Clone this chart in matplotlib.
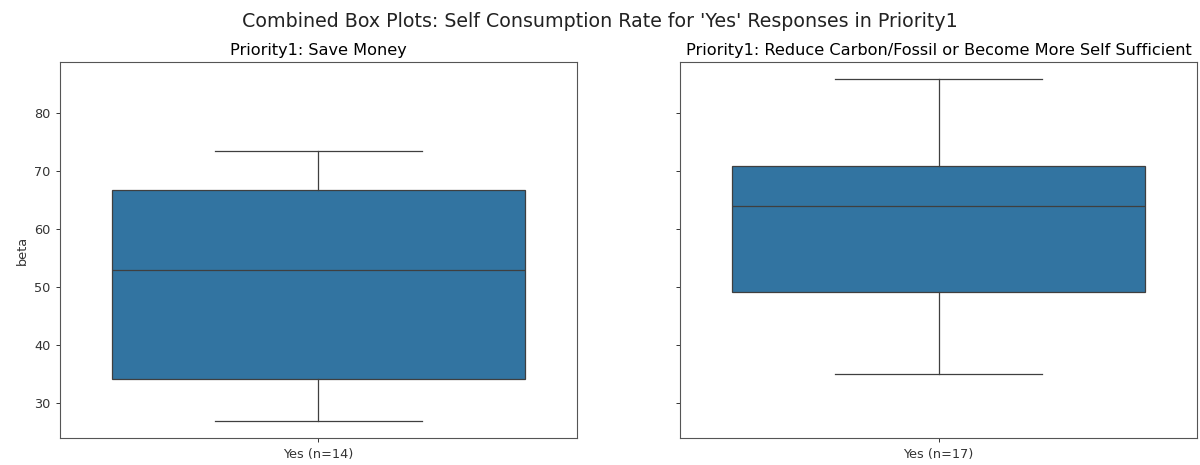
#! /usr/bin/env python

#Combined box plots of self consumption rate (beta) for 'Yes' responses
#Box stats

import numpy as np
import matplotlib
matplotlib.use('Agg')
import matplotlib.pyplot as plt

#Panel titles and x tick labels
titles = ['Priority1: Save Money',
          'Priority1: Reduce Carbon/Fossil or Become More Self Sufficient']
xlabels = ['Yes (n=14)', 'Yes (n=17)']

#Box stats per panel: whisker low, Q1, median, Q3, whisker high
whislo = [26.85, 35.0]
q1 = [34.1, 49.2]
med = [53.0, 63.9]
q3 = [66.65, 70.8]
whishi = [73.4, 85.85]

box_color = '#3274a1'
line_color = '#3f3f3f'

def plot_box(ax, i):
    stats = [{'whislo': whislo[i], 'q1': q1[i], 'med': med[i], 'q3': q3[i],
              'whishi': whishi[i], 'fliers': [], 'label': xlabels[i]}]
    lw = 0.9
    ax.bxp(stats, positions=[0], widths=0.8, patch_artist=True,
           showfliers=False, capwidths=0.4,
           boxprops=dict(facecolor=box_color, edgecolor=line_color, linewidth=lw),
           whiskerprops=dict(color=line_color, linewidth=lw),
           capprops=dict(color=line_color, linewidth=lw),
           medianprops=dict(color=line_color, linewidth=lw))
    ax.set_xlim(-0.5, 0.5)
    ax.set_title(titles[i], fontsize=11.6, pad=5)
    ax.tick_params(labelsize=9.3, width=0.7, length=3.2, colors='#333333')
    for s in ax.spines.values():
        s.set_linewidth(0.8)
        s.set_color('#555555')

def main():
    f, axa = plt.subplots(1, 2, figsize=(12, 4.65), dpi=100, sharey=True)
    for i in range(2):
        plot_box(axa[i], i)
    axa[0].set_ylabel('beta', fontsize=9.3, color='#333333')
    lo = min(whislo)
    hi = max(whishi)
    pad = (hi - lo) * 0.05
    axa[0].set_ylim(lo - pad, hi + pad)
    axa[0].set_yticks([30, 40, 50, 60, 70, 80])
    f.suptitle("Combined Box Plots: Self Consumption Rate for 'Yes' Responses in Priority1",
               fontsize=13.7, y=0.975, color='#222222')
    f.subplots_adjust(left=0.05, right=0.9975, bottom=0.057, top=0.867, wspace=0.2)
    f.savefig('out.png', dpi=100)

if __name__ == "__main__":
    main()
